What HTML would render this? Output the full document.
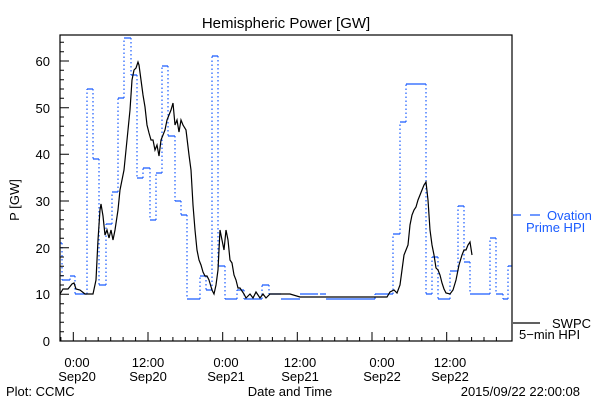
<!DOCTYPE html>
<html><head><meta charset="utf-8"><style>
body{margin:0;background:#fff;}
svg{display:block;font-family:"Liberation Sans",sans-serif;}
</style></head><body>
<svg width="600" height="400" viewBox="0 0 600 400" xmlns="http://www.w3.org/2000/svg">
<rect width="600" height="400" fill="#fff"/>
<text x="286" y="28" font-size="15" text-anchor="middle">Hemispheric Power [GW]</text>
<!-- blue step series -->
<g stroke="#1a5cff" stroke-width="1.2" fill="none">
<path stroke-dasharray="1.5,2.5" d="M62,243V280M70,280V276M75,276V294M87,294V89M93,89V159M99,159V285M106,285V224M112,224V192M118,192V98M124,98V38M131,38V75M137,75V178M143,178V168M150,168V220M156,220V173M162,173V66M168,66V136M175,136V201M181,201V215M187,215V299M200,299V276M206,276V290M212,290V56M218,56V266M225,266V299M237,299V290M244,290V299M262,299V285M269,285V294M375,299V294M393,294V234M400,234V122M406,122V84M426,84V294M432,294V257M438,257V299M450,299V271M458,271V206M464,206V262M470,262V294M490,294V238M496,238V294M503,294V299M508,299V266"/>
<path d="M60,243H62M62,280H70M70,276H75M75,294H87M87,89H93M93,159H99M99,285H106M106,224H112M112,192H118M118,98H124M124,38H131M131,75H137M137,178H143M143,168H150M150,220H156M156,173H162M162,66H168M168,136H175M175,201H181M181,215H187M187,299H200M200,276H206M206,290H212M212,56H218M218,266H225M225,299H237M237,290H244M244,299H262M262,285H269M269,294H281M281,299H300M300,294H318M320,294H326M326,299H375M375,294H393M393,234H400M400,122H406M406,84H426M426,294H432M432,257H438M438,299H450M450,271H458M458,206H464M464,262H470M470,294H490M490,238H496M496,294H503M503,299H508M508,266H512"/>
</g>
<!-- black series -->
<polyline fill="none" stroke="#000" stroke-width="1.2" points="60,294 63,289 68,289 72,284 74,283 76,289 80,290 85,294 93,294 96,280 98,240 100,210 101,204 103,216 105,235 107,230 109,238 111,230 113,240 115,230 118,210 120,190 122,180 124,170 126,150 128,130 130,110 132,80 134,70 136,68 138,62 139,65 141,80 143,95 145,107 147,125 149,133 151,140 153,140 155,150 157,145 159,156 161,140 163,135 165,130 167,120 169,115 171,110 173,103 175,125 177,120 179,132 181,120 183,125 186,130 189,155 191,170 193,205 195,230 197,250 199,260 201,265 203,272 205,276 207,276 209,280 212,290 214,294 216,285 218,270 220,230 222,240 224,250 226,230 228,240 230,260 232,263 234,275 236,280 238,288 240,288 244,294 246,298 250,294 253,298 256,292 260,298 263,294 266,298 270,294 290,294 300,297 387,297 390,292 394,290 397,293 400,285 402,270 404,255 406,250 408,245 410,225 412,215 414,210 416,207 418,200 420,195 422,190 424,185 426,182 428,200 430,230 432,245 434,255 436,268 438,270 440,275 442,283 444,289 446,293 450,294 453,290 456,280 459,265 462,255 464,250 466,250 468,245 470,242 472,255"/>
<!-- axes -->
<rect x="60" y="35" width="452" height="306" fill="none" stroke="#000" stroke-width="1.2"/>
<g stroke="#000" stroke-width="1">
<path d="M60,341h9M60,294.3h9M60,247.7h9M60,201h9M60,154.3h9M60,107.7h9M60,61h9"/>
<path d="M60,331.7h4M60,322.3h4M60,313h4M60,303.7h4M60,285h4M60,275.7h4M60,266.3h4M60,257h4M60,238.3h4M60,229h4M60,219.7h4M60,210.3h4M60,191.7h4M60,182.3h4M60,173h4M60,163.7h4M60,145h4M60,135.7h4M60,126.3h4M60,117h4M60,98.3h4M60,89h4M60,79.7h4M60,70.3h4M60,51.7h4M60,42.3h4"/>
<path d="M73.3,341v-9M148,341v-9M222.7,341v-9M297.3,341v-9M372,341v-9M446.7,341v-9"/>
<path d="M60.9,341v-4M85.8,341v-4M98.2,341v-4M110.7,341v-4M123.1,341v-4M135.6,341v-4M160.4,341v-4M172.9,341v-4M185.3,341v-4M197.8,341v-4M210.2,341v-4M235.1,341v-4M247.6,341v-4M260,341v-4M272.4,341v-4M284.9,341v-4M309.8,341v-4M322.2,341v-4M334.7,341v-4M347.1,341v-4M359.6,341v-4M384.4,341v-4M396.9,341v-4M409.3,341v-4M421.8,341v-4M434.2,341v-4M459.1,341v-4M471.6,341v-4M484,341v-4M496.4,341v-4"/>
</g>
<g font-size="13" text-anchor="end">
<text x="50" y="346">0</text><text x="50" y="299">10</text><text x="50" y="253">20</text><text x="50" y="206">30</text><text x="50" y="159">40</text><text x="50" y="113">50</text><text x="50" y="66">60</text>
</g>
<text transform="translate(19,200) rotate(-90)" font-size="13" text-anchor="middle">P [GW]</text>
<g font-size="13" text-anchor="middle">
<text x="77" y="367">0:00</text><text x="77" y="381">Sep20</text>
<text x="148" y="367">12:00</text><text x="148" y="381">Sep20</text>
<text x="226" y="367">0:00</text><text x="226" y="381">Sep21</text>
<text x="300" y="367">12:00</text><text x="300" y="381">Sep21</text>
<text x="382" y="367">0:00</text><text x="382" y="381">Sep22</text>
<text x="450" y="367">12:00</text><text x="450" y="381">Sep22</text>
<text x="290" y="396">Date and Time</text>
</g>
<text x="6" y="396" font-size="13">Plot: CCMC</text>
<text x="580" y="396" font-size="13" text-anchor="end">2015/09/22 22:00:08</text>
<g fill="#1a5cff" font-size="13">
<path d="M513,215h8M530,215h10" stroke="#1a5cff" stroke-width="1.2"/>
<text x="547" y="220">Ovation</text>
<text x="526" y="232">Prime HPI</text>
</g>
<path d="M513,323h27" stroke="#000" stroke-width="1.2"/>
<text x="552" y="328" font-size="13">SWPC</text>
<text x="519" y="339" font-size="13">5−min HPI</text>
</svg>
</body></html>
